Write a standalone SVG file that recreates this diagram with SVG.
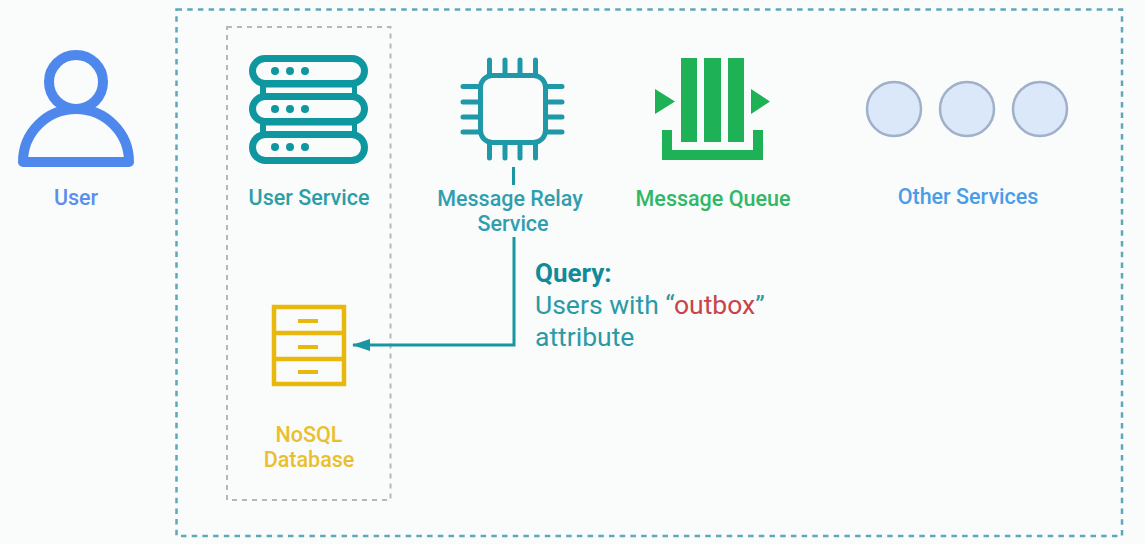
<svg xmlns="http://www.w3.org/2000/svg" width="1145" height="544" viewBox="0 0 1145 544">
<style>
text{font-family:Roboto,"Liberation Sans",sans-serif;font-size:21.500px;font-weight:500;text-anchor:middle}
.q{font-size:26.500px;font-weight:400;text-anchor:start;fill:#2a9aa6}
.qh{font-size:26px;font-weight:700;text-anchor:start;fill:#128a98}
.teal{fill:#0f979f}
.tealt{fill:#2c9ea6}
.relay{fill:none;stroke:#1f98a8;stroke-width:5;stroke-linecap:round}
.green{fill:#1fb155}
.yel{fill:none;stroke:#e9b80f;stroke-width:4.500}
.yelf{fill:#e9b80f}
.svc{fill:#dae8fa;stroke:#9fb0c8;stroke-width:2.500}
.pill{fill:#fafbfb;stroke:#0f979f;stroke-width:7}
.strip{fill:#fafbfb}
.conn{fill:none;stroke:#1a96a3;stroke-width:3}
</style>
<defs>
<marker id="ah" markerUnits="userSpaceOnUse" markerWidth="18" markerHeight="12" refX="17" refY="6" orient="auto"><path d="M0 0L18 6L0 12Z" fill="#1a96a3"/></marker>
</defs>
<rect width="1145" height="544" fill="#fafbfb"/>
<g id="boundary-system"><rect x="176.500" y="9.500" width="945.500" height="526.500" fill="none" stroke="#5fa8bb" stroke-width="2.500" stroke-dasharray="5.500 5.200"/></g>
<g id="boundary-user-service"><rect x="227" y="27" width="163.500" height="473" fill="none" stroke="#b5b8ba" stroke-width="2" stroke-dasharray="5 5"/></g>
<g id="user">
<circle cx="76" cy="82" r="27" fill="none" stroke="#4f88ec" stroke-width="10"/>
<path d="M23 162A53 53 0 0 1 129 162Z" fill="none" stroke="#4f88ec" stroke-width="10" stroke-linejoin="round"/>
<text x="76" y="205" fill="#5b8fec">User</text>
</g>
<g id="user-service">
<rect class="teal" x="260" y="80" width="97" height="55"/>
<rect class="strip" x="266" y="87.500" width="86" height="5.500"/>
<rect class="strip" x="266" y="125.500" width="86" height="5.500"/>
<rect class="pill" x="252.500" y="58.500" width="112" height="25" rx="12.500"/>
<rect class="pill" x="252.500" y="96.500" width="112" height="25" rx="12.500"/>
<rect class="pill" x="252.500" y="134.500" width="112" height="26" rx="13"/>
<g class="teal">
<circle cx="275" cy="71" r="4"/><circle cx="290" cy="71" r="4"/><circle cx="305" cy="71" r="4"/>
<circle cx="275" cy="109" r="4"/><circle cx="290" cy="109" r="4"/><circle cx="305" cy="109" r="4"/>
<circle cx="275" cy="147" r="4"/><circle cx="290" cy="147" r="4"/><circle cx="305" cy="147" r="4"/>
</g>
<text class="tealt" x="309" y="205">User Service</text>
</g>
<g id="message-relay-service">
<rect class="relay" x="480.500" y="75.500" width="65" height="67" rx="12"/>
<path class="relay" d="M489.500 60V74M505 60V74M520 60V74M535.500 60V74M489.500 144V158M505 144V158M520 144V158M535.500 144V158M463 86.500H479M463 102H479M463 117H479M463 132H479M547 86.500H562M547 102H562M547 117H562M547 132H562"/>
<text x="510" y="206" fill="#2f9fb0">Message Relay</text>
<text x="513" y="231" fill="#2f9fb0">Service</text>
</g>
<g id="message-queue">
<path class="green" d="M681 58H697V142H681ZM704 58H721V142H704ZM728 58H744V142H728ZM662 130H672V150H753V130H763V160H662ZM655 89L675 101.500L655 114ZM751 89L770 101.500L751 114Z"/>
<text x="713" y="206" fill="#2fb866">Message Queue</text>
</g>
<g id="other-services">
<circle class="svc" cx="894" cy="109" r="27"/>
<circle class="svc" cx="967" cy="109" r="27"/>
<circle class="svc" cx="1040" cy="109" r="27"/>
<text x="968" y="204" fill="#4a9de8">Other Services</text>
</g>
<g id="nosql-database">
<rect class="yel" x="274" y="307" width="70" height="77"/>
<path class="yel" d="M274 333H344M274 359H344"/>
<path class="yelf" d="M298 319H318V323H298ZM298 345H318V349H298ZM298 370H318V374H298Z"/>
<text x="309" y="442" fill="#eabf2e">NoSQL</text>
<text x="309" y="467" fill="#eabf2e">Database</text>
</g>
<g id="connectors">
<path class="conn" d="M513.500 167V185"/>
<path class="conn" d="M514 237V345H353" marker-end="url(#ah)"/>
</g>
<g id="query-label">
<text class="qh" x="535" y="282">Query:</text>
<text class="q" x="535" y="314">Users with “<tspan fill="#c8434a">outbox</tspan>”</text>
<text class="q" x="535" y="346">attribute</text>
</g>
</svg>
